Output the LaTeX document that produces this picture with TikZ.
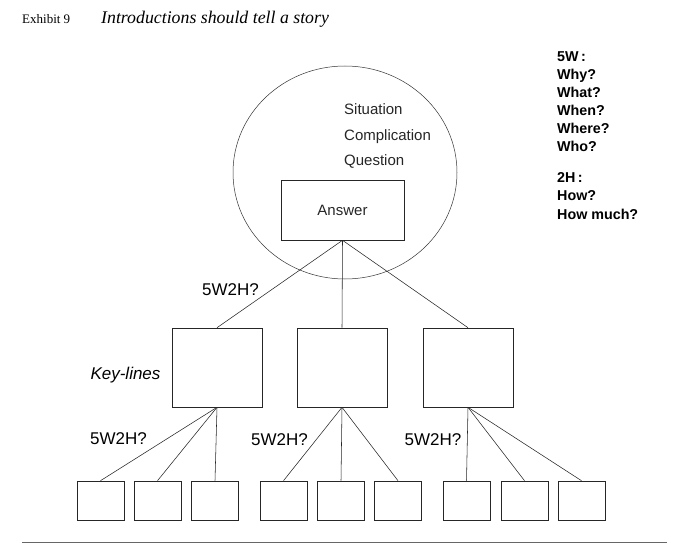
\documentclass[tikz,border=0pt]{standalone}
\usepackage{fontspec}
\setmainfont{Liberation Serif}
\setsansfont{Liberation Sans}
\usetikzlibrary{shapes.geometric}
\begin{document}
\begin{tikzpicture}[x=1pt,y=-1pt,
  box/.style={draw=black!85, line width=0.6pt, rectangle, inner sep=0pt},
  keybox/.style={box, minimum width=90pt, minimum height=79pt},
  leaf/.style={box, minimum width=47pt, minimum height=39pt},
  conn/.style={draw=black!85, line width=0.55pt},
  lbl/.style={font=\sffamily\fontsize{17}{19}\selectfont, inner sep=0pt, anchor=base},
  sit/.style={font=\sffamily\fontsize{15}{17}\selectfont, inner sep=0pt, anchor=base west, text=black!85},
  side/.style={font=\sffamily\bfseries\fontsize{14.3}{16}\selectfont, inner sep=0pt, anchor=base west}]
\useasboundingbox (0,0) rectangle (680,548);
% title
\node[font=\rmfamily\fontsize{13}{15}\selectfont, inner sep=0pt, anchor=base west] (exh) at (22,24) {Exhibit 9};
\node[font=\rmfamily\itshape\fontsize{17.8}{20}\selectfont, inner sep=0pt, anchor=base west] (ttl) at (101,24) {Introductions should tell a story};
% circle
\node[ellipse, draw=black!80, line width=0.5pt, minimum width=224pt, minimum height=213pt, inner sep=0pt] (circ) at (345,172.5) {};
\node[sit] (s1t) at (344,114.5) {Situation};
\node[sit] (s2t) at (344,140.5) {Complication};
\node[sit] (s3t) at (344,165.5) {Question};
\node[box, minimum width=123pt, minimum height=60pt, font=\sffamily\fontsize{15}{17}\selectfont, text=black!85] (ans) at (342.5,210) {Answer};
% key-lines
\node[keybox] (k1) at (217,367.5) {};
\node[keybox] (k2) at (342,367.5) {};
\node[keybox] (k3) at (468,367.5) {};
% leaves
\node[leaf] (l1) at (100.5,500.5) {};
\node[leaf] (l2) at (157.5,500.5) {};
\node[leaf] (l3) at (215,500.5) {};
\node[leaf] (l4) at (283.5,500.5) {};
\node[leaf] (l5) at (341,500.5) {};
\node[leaf] (l6) at (398,500.5) {};
\node[leaf] (l7) at (466.5,500.5) {};
\node[leaf] (l8) at (524.5,500.5) {};
\node[leaf] (l9) at (581.5,500.5) {};
% connectors
\draw[conn] (ans.south) -- (k1.north);
\draw[conn] (ans.south) -- (k2.north);
\draw[conn] (ans.south) -- (k3.north);
\draw[conn] (k1.south) -- (l1.north);
\draw[conn] (k1.south) -- (l2.north);
\draw[conn] (k1.south) -- (l3.north);
\draw[conn] (k2.south) -- (l4.north);
\draw[conn] (k2.south) -- (l5.north);
\draw[conn] (k2.south) -- (l6.north);
\draw[conn] (k3.south) -- (l7.north);
\draw[conn] (k3.south) -- (l8.north);
\draw[conn] (k3.south) -- (l9.north);
% labels
\node[lbl] (q0) at (230.5,295) {5W2H?};
\node[lbl, font=\sffamily\itshape\fontsize{17}{19}\selectfont] (kl) at (125.5,379) {Key-lines};
\node[lbl] (q1) at (118.5,444) {5W2H?};
\node[lbl] (q2) at (279.5,445.5) {5W2H?};
\node[lbl] (q3) at (433,445.5) {5W2H?};
% side list
\node[side] (w0) at (557,62) {5W\,:};
\node[side] (w1) at (557,80) {Why?};
\node[side] (w2) at (557,98) {What?};
\node[side] (w3) at (557,116) {When?};
\node[side] (w4) at (557,134) {Where?};
\node[side] (w5) at (557,152) {Who?};
\node[side] (h0) at (557,183) {2H\,:};
\node[side] (h1) at (557,201) {How?};
\node[side] (h2) at (557,219) {How much?};
% bottom rule
\coordinate (ruleL) at (22,542);
\coordinate (ruleR) at (667,542);
\draw[draw=black!60, line width=0.9pt] (ruleL) -- (ruleR);
\end{tikzpicture}
\end{document}
